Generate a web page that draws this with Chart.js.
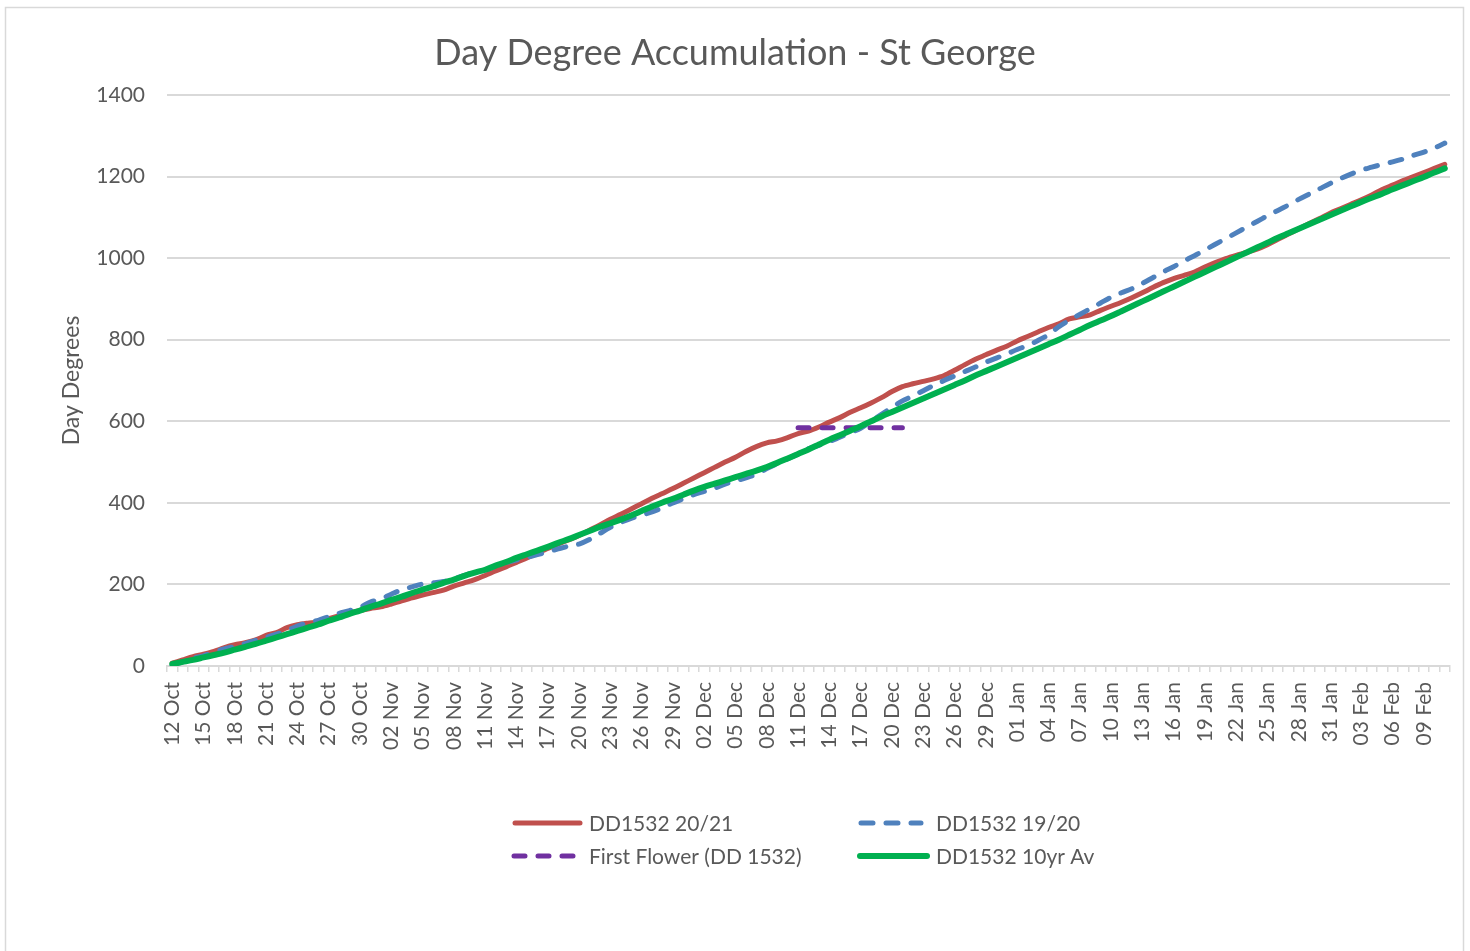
<!DOCTYPE html>
<html><head><meta charset="utf-8">
<script src="https://cdn.jsdelivr.net/npm/chart.js@4.4.1/dist/chart.umd.min.js"></script>
<style>html,body{margin:0;padding:0;background:#fff;overflow:hidden}canvas{display:block}</style>
</head><body>
<canvas id="c" width="1470" height="951"></canvas>
<script>
const dates = [
 '12 Oct','13 Oct','14 Oct','15 Oct','16 Oct','17 Oct','18 Oct','19 Oct','20 Oct','21 Oct','22 Oct','23 Oct','24 Oct','25 Oct','26 Oct','27 Oct','28 Oct','29 Oct','30 Oct','31 Oct',
 '01 Nov','02 Nov','03 Nov','04 Nov','05 Nov','06 Nov','07 Nov','08 Nov','09 Nov','10 Nov','11 Nov','12 Nov','13 Nov','14 Nov','15 Nov','16 Nov','17 Nov','18 Nov','19 Nov','20 Nov',
 '21 Nov','22 Nov','23 Nov','24 Nov','25 Nov','26 Nov','27 Nov','28 Nov','29 Nov','30 Nov',
 '01 Dec','02 Dec','03 Dec','04 Dec','05 Dec','06 Dec','07 Dec','08 Dec','09 Dec','10 Dec','11 Dec','12 Dec','13 Dec','14 Dec','15 Dec','16 Dec','17 Dec','18 Dec','19 Dec','20 Dec',
 '21 Dec','22 Dec','23 Dec','24 Dec','25 Dec','26 Dec','27 Dec','28 Dec','29 Dec','30 Dec','31 Dec',
 '01 Jan','02 Jan','03 Jan','04 Jan','05 Jan','06 Jan','07 Jan','08 Jan','09 Jan','10 Jan','11 Jan','12 Jan','13 Jan','14 Jan','15 Jan','16 Jan','17 Jan','18 Jan','19 Jan','20 Jan',
 '21 Jan','22 Jan','23 Jan','24 Jan','25 Jan','26 Jan','27 Jan','28 Jan','29 Jan','30 Jan','31 Jan',
 '01 Feb','02 Feb','03 Feb','04 Feb','05 Feb','06 Feb','07 Feb','08 Feb','09 Feb','10 Feb','11 Feb'
];
const dd2021 = [7,15,23,29,36,45,52,57,64,75,
 82,94,101,105,108,116,123,130,136,141,
 145,152,160,167,174,180,186,196,204,212,
 222,233,243,254,265,277,288,299,309,320,
 333,346,360,372,385,398,411,423,435,448,
 461,474,487,500,512,526,538,547,552,560,
 570,576,586,598,609,622,633,645,658,673,
 685,692,698,704,712,725,739,752,763,774,
 784,797,808,819,830,839,851,856,861,872,
 882,892,903,915,928,940,950,958,966,978,
 989,999,1007,1014,1022,1033,1046,1059,1072,1085,
 1097,1110,1121,1132,1143,1155,1168,1179,1190,1200,
 1210,1220,1230];
const dd1920 = [2,10,19,25,34,42,48,55,63,70,
 78,87,98,106,112,121,129,136,144,157,
 164,176,187,194,201,204,207,214,222,230,
 235,245,254,260,266,273,280,287,294,299,
 310,325,340,352,362,370,378,388,400,410,
 420,428,436,446,454,461,470,484,496,508,
 520,533,541,550,561,572,583,600,617,634,
 650,662,675,688,700,711,722,733,745,755,
 765,776,786,798,812,832,848,862,876,890,
 904,915,925,938,952,966,979,993,1006,1020,
 1034,1048,1062,1076,1090,1104,1117,1130,1144,1157,
 1170,1183,1195,1206,1216,1223,1230,1236,1243,1252,
 1260,1270,1282];
const dd10yr = [5,10,15,21,27,33,40,47,54,62,
 70,78,86,94,102,111,119,128,136,145,
 153,162,170,179,187,195,204,212,221,229,
 236,246,255,265,274,283,292,302,311,321,
 331,341,350,359,369,380,391,401,410,420,
 430,439,447,455,463,471,479,488,498,509,
 520,531,543,555,566,577,588,600,612,623,
 634,645,656,667,678,689,700,712,723,734,
 745,756,767,778,789,800,812,824,836,847,
 858,870,882,894,906,918,930,942,954,966,
 978,990,1002,1014,1026,1038,1050,1061,1072,1083,
 1094,1105,1116,1127,1138,1148,1158,1169,1179,1189,
 1199,1210,1220];
const firstFlowerDates = ['11 Dec','21 Dec'];
const firstFlowerValues = [584,584];
const seriesNames = ['DD1532 20/21','DD1532 19/20','First Flower (DD 1532)','DD1532 10yr Av'];

const FONT = 'Lato';
const TXT = '#595959';
const GRID = '#d9d9d9';

const framePlugin = {
  id: 'frame',
  beforeDraw(chart) {
    const ctx = chart.ctx;
    ctx.save();
    ctx.fillStyle = '#ffffff';
    ctx.fillRect(0, 0, chart.width, chart.height);
    ctx.strokeStyle = GRID;
    ctx.lineWidth = 1.5;
    ctx.strokeRect(5.5, 7.5, 1458, 1000);
    ctx.restore();
  }
};

const legendPlugin = {
  id: 'customLegend',
  afterDraw(chart) {
    const ctx = chart.ctx;
    const slots = [
      {ds: 0, x1: 515, x2: 580, tx: 589, y: 823},
      {ds: 1, x1: 861, x2: 921, tx: 936, y: 823},
      {ds: 2, x1: 514, x2: 576, tx: 589, y: 856},
      {ds: 3, x1: 860, x2: 927, tx: 936, y: 856}
    ];
    ctx.save();
    slots.forEach(s => {
      const d = chart.data.datasets[s.ds];
      ctx.beginPath();
      ctx.strokeStyle = d.borderColor;
      ctx.lineWidth = d.borderWidth;
      ctx.lineCap = 'round';
      ctx.setLineDash(d.borderDash || []);
      ctx.moveTo(s.x1, s.y);
      ctx.lineTo(s.x2, s.y);
      ctx.stroke();
      ctx.setLineDash([]);
      ctx.fillStyle = TXT;
      ctx.font = '21px ' + FONT;
      ctx.textBaseline = 'middle';
      ctx.textAlign = 'left';
      ctx.fillText(d.label, s.tx, s.y + 1);
    });
    ctx.restore();
  }
};

new Chart(document.getElementById('c'), {
  type: 'line',
  data: {
    labels: dates,
    datasets: [
      {label: seriesNames[0], data: dd2021, borderColor: '#C0504D', borderWidth: 5, order: 3,
       pointRadius: 0, tension: 0.3, borderCapStyle: 'round', borderJoinStyle: 'round', fill: false},
      {label: seriesNames[1], data: dd1920, borderColor: '#4F81BD', borderWidth: 5, order: 2,
       borderDash: [12, 13], pointRadius: 0, tension: 0.3, borderCapStyle: 'round', borderJoinStyle: 'round', fill: false},
      {label: seriesNames[2], data: firstFlowerDates.map((d, i) => ({x: d, y: firstFlowerValues[i]})),
       borderColor: '#7030A0', borderWidth: 5, order: 1, borderDash: [11, 13], pointRadius: 0,
       borderCapStyle: 'round', fill: false},
      {label: seriesNames[3], data: dd10yr, borderColor: '#00B050', borderWidth: 6, order: 0,
       pointRadius: 0, tension: 0.3, borderCapStyle: 'round', borderJoinStyle: 'round', fill: false}
    ]
  },
  options: {
    responsive: false,
    animation: false,
    devicePixelRatio: 1,
    layout: {padding: {top: 0, left: 20, right: 20, bottom: 185}},
    plugins: {
      legend: {display: false},
      tooltip: {enabled: false},
      title: {
        display: true,
        text: 'Day Degree Accumulation - St George',
        color: TXT,
        font: {family: FONT, size: 36, weight: 'normal', lineHeight: 1.2},
        padding: {top: 32, bottom: 19.8}
      }
    },
    scales: {
      x: {
        type: 'category',
        offset: true,
        grid: {display: true, drawOnChartArea: false, drawTicks: true, tickLength: 6, offset: true,
               color: GRID, lineWidth: 1.5},
        border: {display: true, color: GRID, width: 2},
        ticks: {
          autoSkip: false, minRotation: 90, maxRotation: 90, padding: 10,
          color: TXT, font: {family: FONT, size: 21},
          callback: function(v, i) { return i % 3 === 0 ? this.getLabelForValue(v) : ''; }
        },
        afterFit(scale) { scale.height = 100; scale.paddingRight = 0; scale.paddingLeft = 0; }
      },
      y: {
        min: 0, max: 1400,
        grid: {color: GRID, lineWidth: 2, drawTicks: false},
        border: {display: false},
        ticks: {stepSize: 200, padding: 22, color: TXT, font: {family: FONT, size: 21},
                callback: v => String(v)},
        title: {display: true, text: 'Day Degrees', color: TXT,
                font: {family: FONT, size: 23, lineHeight: 1.2}, padding: {top: 38, bottom: 0}},
        afterFit(scale) { scale.width = 147; }
      }
    }
  },
  plugins: [framePlugin, legendPlugin]
});
</script>
</body></html>
